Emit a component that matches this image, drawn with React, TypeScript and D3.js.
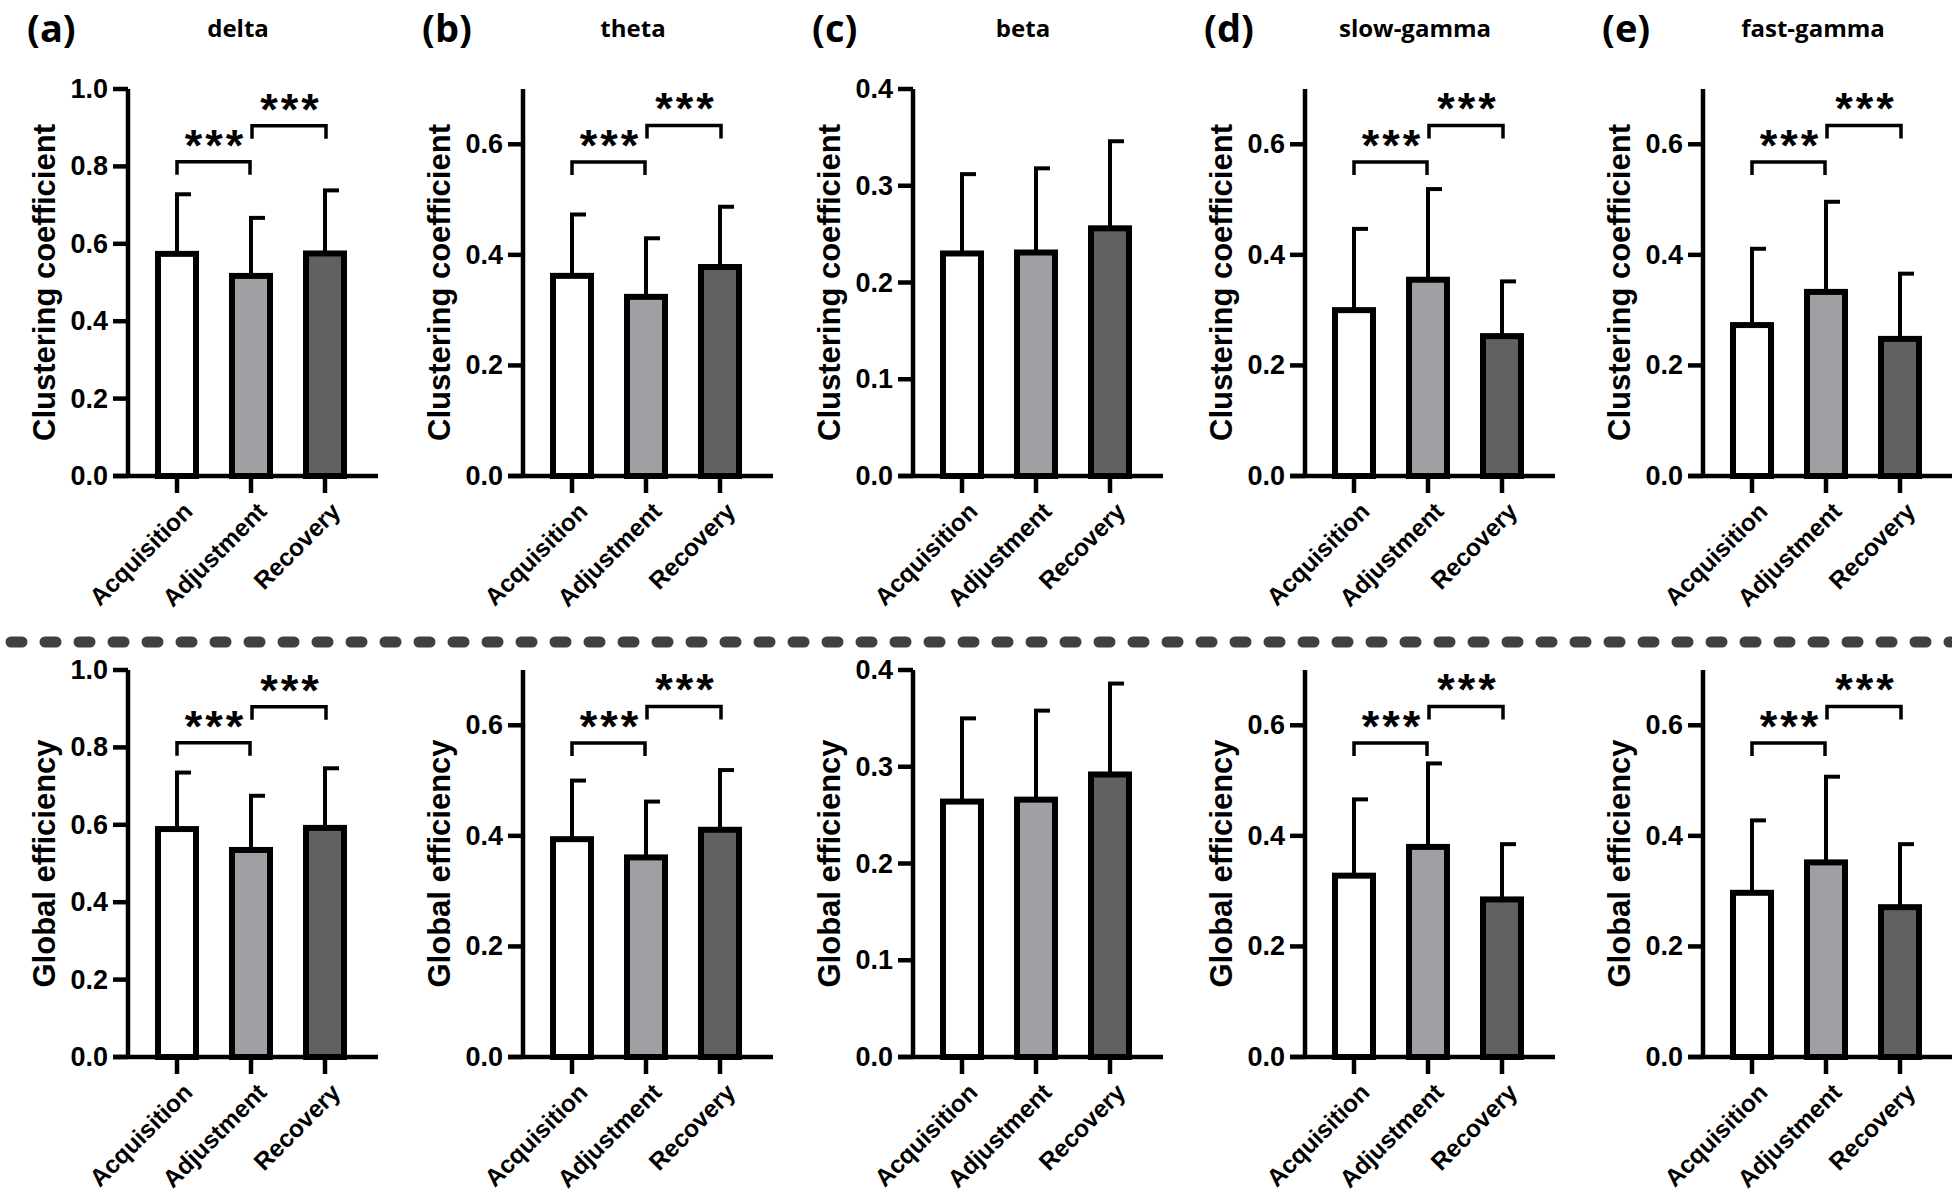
import React from 'react';
import * as d3 from 'd3';

// ---------- data ----------
const categories = ['Acquisition', 'Adjustment', 'Recovery'];
const bandNames = ['delta', 'theta', 'beta', 'slow-gamma', 'fast-gamma'];
const panelLetters = ['(a)', '(b)', '(c)', '(d)', '(e)'];
const rowTitles = ['Clustering coefficient', 'Global efficiency'];

const yMax = [1.0, 0.7, 0.4, 0.7, 0.7];
const tickValues = [
  [0, 0.2, 0.4, 0.6, 0.8, 1.0],
  [0, 0.2, 0.4, 0.6],
  [0, 0.1, 0.2, 0.3, 0.4],
  [0, 0.2, 0.4, 0.6],
  [0, 0.2, 0.4, 0.6],
];

// Clustering coefficient: mean and mean+SD (top of error bar)
const clusteringMean = [
  [0.574, 0.517, 0.575],
  [0.362, 0.324, 0.378],
  [0.230, 0.231, 0.256],
  [0.300, 0.355, 0.253],
  [0.273, 0.333, 0.248],
];
const clusteringUpper = [
  [0.728, 0.667, 0.738],
  [0.473, 0.430, 0.487],
  [0.312, 0.318, 0.346],
  [0.447, 0.519, 0.352],
  [0.411, 0.496, 0.366],
];

// Global efficiency: mean and mean+SD
const efficiencyMean = [
  [0.589, 0.535, 0.592],
  [0.394, 0.361, 0.411],
  [0.264, 0.266, 0.292],
  [0.328, 0.380, 0.285],
  [0.297, 0.352, 0.271],
];
const efficiencyUpper = [
  [0.735, 0.675, 0.746],
  [0.500, 0.462, 0.519],
  [0.350, 0.358, 0.386],
  [0.466, 0.531, 0.385],
  [0.428, 0.507, 0.385],
];

// significance brackets (Acq vs Adj, Adj vs Rec), in data units
const hasSignificance = [true, true, false, true, true];
const bracketLevels = [
  [0.812, 0.905],
  [0.568, 0.634],
  [0, 0],
  [0.568, 0.634],
  [0.568, 0.634],
];
const sigLabel = '***';

const barColors = ['#ffffff', '#a0a0a4', '#616161'];

// ---------- layout ----------
const W = 1952;
const H = 1196;
const axisX = [128, 523, 913, 1305, 1703];
const rows = [
  { y0: 476, y1: 89 },
  { y0: 1057, y1: 670 },
];
const SANS = '"Liberation Sans", Arial, sans-serif';
const TITLE_FONT = '"Open Sans", "Noto Sans", sans-serif';

function Panel({ row, col }: { row: number; col: number }) {
  const ax = axisX[col];
  const { y0, y1 } = rows[row];
  const x = d3.scalePoint<string>().domain(categories).range([ax + 49, ax + 197]);
  const y = d3.scaleLinear().domain([0, yMax[col]]).range([y0, y1]);
  const means = row === 0 ? clusteringMean[col] : efficiencyMean[col];
  const uppers = row === 0 ? clusteringUpper[col] : efficiencyUpper[col];
  const fmt = d3.format('.1f');
  const barW = 38;

  const brackets = hasSignificance[col]
    ? [
        { a: 0, b: 1, level: bracketLevels[col][0], dx0: 0, dx1: -1 },
        { a: 1, b: 2, level: bracketLevels[col][1], dx0: 1, dx1: 1 },
      ]
    : [];

  return (
    <g>
      {/* bars */}
      {categories.map((c, i) => {
        const cx = x(c)!;
        const top = y(means[i]);
        return (
          <rect
            key={c}
            x={cx - barW / 2}
            y={top}
            width={barW}
            height={y0 - top}
            fill={barColors[i]}
            stroke="#000"
            strokeWidth={6}
          />
        );
      })}
      {/* error bars */}
      {categories.map((c, i) => {
        const cx = x(c)!;
        const top = y(means[i]);
        const up = y(uppers[i]);
        return (
          <g key={c} stroke="#000" strokeWidth={4}>
            <line x1={cx} x2={cx} y1={top - 2} y2={up} />
            <line x1={cx - 2} x2={cx + 14} y1={up} y2={up} />
          </g>
        );
      })}
      {/* axes */}
      <line x1={ax} x2={ax} y1={y0 + 2} y2={y1} stroke="#000" strokeWidth={4.5} />
      <line x1={ax - 15} x2={ax + 250} y1={y0} y2={y0} stroke="#000" strokeWidth={4.5} />
      {tickValues[col].map((t) => (
        <g key={t}>
          <line x1={ax - 15} x2={ax} y1={y(t)} y2={y(t)} stroke="#000" strokeWidth={4.5} />
          <text
            x={ax - 20}
            y={y(t)}
            textAnchor="end"
            dominantBaseline="central"
            fontFamily={SANS}
            fontWeight="bold"
            fontSize={27}
          >
            {fmt(t)}
          </text>
        </g>
      ))}
      {categories.map((c) => {
        const cx = x(c)!;
        return (
          <g key={c}>
            <line x1={cx} x2={cx} y1={y0} y2={y0 + 17} stroke="#000" strokeWidth={4.5} />
            <text
              transform={`translate(${cx + 17},${y0 + 37}) rotate(-45)`}
              textAnchor="end"
              fontFamily={SANS}
              fontWeight="bold"
              fontSize={24.5}
            >
              {c}
            </text>
          </g>
        );
      })}
      {/* y title */}
      <text
        transform={`translate(${ax - 84},${(y0 + y1) / 2}) rotate(-90)`}
        textAnchor="middle"
        dominantBaseline="central"
        fontFamily={SANS}
        fontWeight="bold"
        fontSize={31}
      >
        {rowTitles[row]}
      </text>
      {/* significance brackets */}
      {brackets.map((b, k) => {
        const xa = x(categories[b.a])! + b.dx0;
        const xb = x(categories[b.b])! + b.dx1;
        const yy = y(b.level);
        return (
          <g key={k}>
            <path
              d={`M${xa},${yy + 13}V${yy}H${xb}V${yy + 13}`}
              fill="none"
              stroke="#000"
              strokeWidth={3.5}
            />
            <text
              x={(xa + xb) / 2 + 2}
              y={yy - 1}
              textAnchor="middle"
              fontFamily={SANS}
              fontWeight="bold"
              fontSize={45}
              letterSpacing={3}
            >
              {sigLabel}
            </text>
          </g>
        );
      })}
      {/* panel header */}
      {row === 0 && (
        <g>
          <text x={ax - 101} y={42} fontFamily={TITLE_FONT} fontWeight="bold" fontSize={38}>
            {panelLetters[col]}
          </text>
          <text
            x={ax + 110}
            y={37}
            textAnchor="middle"
            fontFamily={TITLE_FONT}
            fontWeight="bold"
            fontSize={24}
          >
            {bandNames[col]}
          </text>
        </g>
      )}
    </g>
  );
}

export default function App() {
  return (
    <svg
      width={W}
      height={H}
      viewBox={`0 0 ${W} ${H}`}
      style={{ position: 'absolute', left: 0, top: 0, background: '#fff' }}
    >
      <rect width={W} height={H} fill="#fff" />
      <line
        x1={11}
        x2={W}
        y1={642}
        y2={642}
        stroke="#404040"
        strokeWidth={11}
        strokeLinecap="round"
        strokeDasharray="11 23"
      />
      {[0, 1].map((r) =>
        bandNames.map((_, c) => <Panel key={`${r}-${c}`} row={r} col={c} />)
      )}
    </svg>
  );
}
